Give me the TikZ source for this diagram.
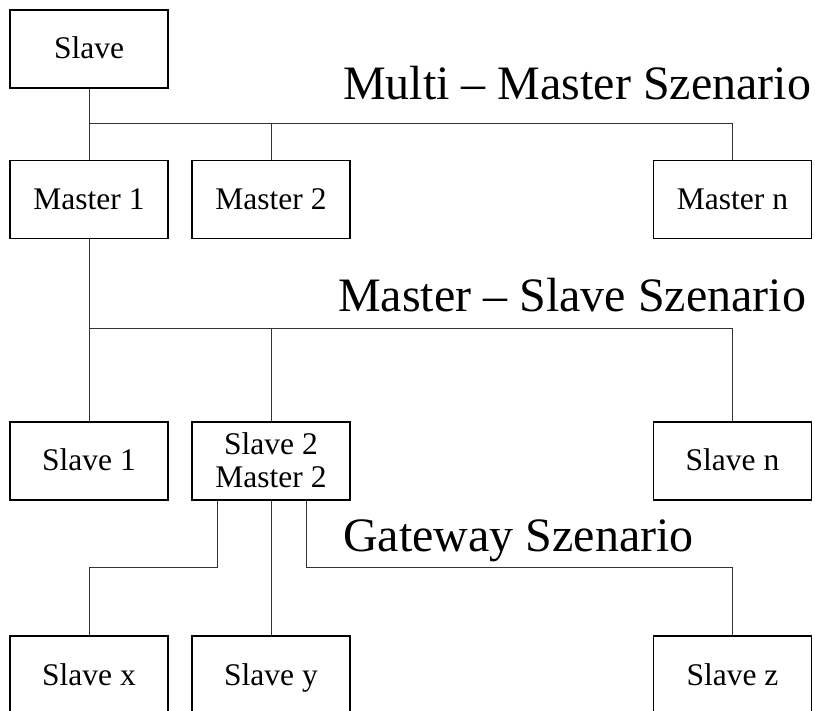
\documentclass[tikz,border=0pt]{standalone}
\usepackage{fontspec}
\setmainfont{Liberation Serif}
\begin{document}
\begin{tikzpicture}[x=1pt,y=-1pt,
  unit/.style={draw=black, line width=1.2pt, minimum width=158pt, minimum height=78pt,
    inner sep=0pt, text height=20pt, text depth=0pt, align=center,
    font=\fontsize{31.5}{33}\selectfont},
  link/.style={draw=black!80, line width=1pt},
  title/.style={anchor=base west, inner sep=0pt, font=\fontsize{48}{50}\selectfont}]
\clip (0,0) rectangle (815,711);
\useasboundingbox (0,0) rectangle (815,711);
\fill[white] (0,0) rectangle (815,711);

% bus levels
\coordinate (bus1) at (0,124);
\coordinate (bus2) at (0,329);
\coordinate (bus3) at (0,568);

% boxes
\node[unit] (slave) at (89,49) {Slave};
\node[unit] (m1) at (89,199.5) {Master 1};
\node[unit] (m2) at (271,199.5) {Master 2};
\node[unit] (mn) at (732.5,199.5) {Master n};
\node[unit] (s1) at (89,461) {Slave 1};
\node[unit, text height=53pt] (sm) at (271,461) {Slave 2\\Master 2};
\node[unit] (sn) at (732.5,461) {Slave n};
\node[unit] (sx) at (89,675) {Slave x};
\node[unit] (sy) at (271,675) {Slave y};
\node[unit] (sz) at (732.5,675) {Slave z};

% scenario titles
\node[title] (t1) at (343,100) {Multi – Master Szenario};
\node[title] (t2) at (338,312) {Master – Slave Szenario};
\node[title] (t3) at (343,552) {Gateway Szenario};

% multi-master bus
\draw[link] (slave.south) -- (m1.north);
\draw[link] (m1.north |- bus1) -| (mn.north);
\draw[link] (m2.north) -- (m2.north |- bus1);

% master-slave bus
\draw[link] (m1.south) -- (s1.north);
\draw[link] (m1.south |- bus2) -| (sn.north);
\draw[link] (sm.north) -- (sm.north |- bus2);

% gateway bus
\draw[link] ([xshift=-54pt]sm.south) -- ([xshift=-54pt]sm.south |- bus3) -| (sx.north);
\draw[link] (sm.south) -- (sy.north);
\draw[link] ([xshift=35pt]sm.south) -- ([xshift=35pt]sm.south |- bus3) -| (sz.north);
\end{tikzpicture}
\end{document}
